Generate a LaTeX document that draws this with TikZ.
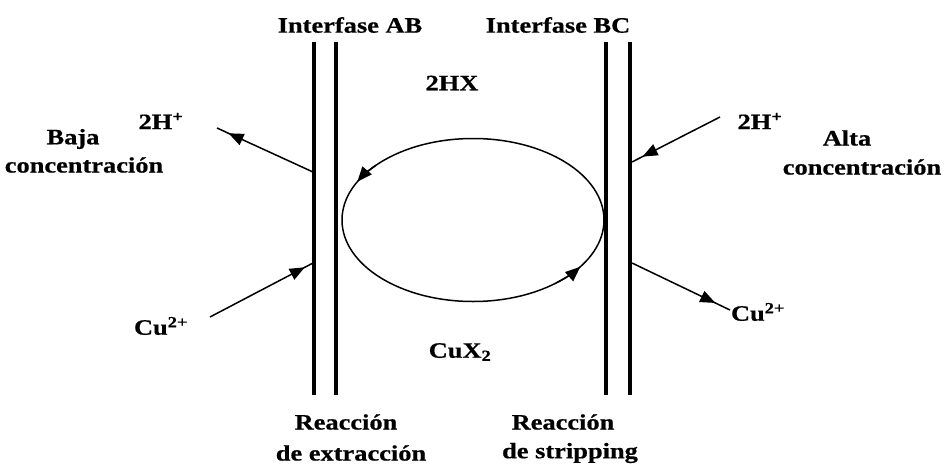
\documentclass[tikz,border=0pt]{standalone}
\usepackage{fontspec}
\newfontfamily\lblfont{Liberation Serif}[FakeStretch=1.2,BoldFeatures={FakeBold=0.6}]
\usetikzlibrary{arrows.meta,decorations.markings,calc}
\tikzset{
  wall/.style={line width=3.2pt},
  conn/.style={line width=1.5pt},
  headat/.style={postaction={decorate},decoration={markings,mark=at position #1 with {\arrow{Triangle[length=15pt,width=12pt]}}}},
  lbl/.style={inner sep=0pt,align=center},
  tipstyle/.style={line width=1.5pt,-{Triangle[length=15pt,width=12pt]}}
}
\begin{document}
\begin{tikzpicture}[x=1pt,y=-1pt,font=\lblfont\bfseries\fontsize{22}{30}\selectfont]
\useasboundingbox (0,0) rectangle (947,471);
% interfaces
\draw[wall] (314,42) -- (314,395);
\draw[wall] (336,42) -- (336,395);
\draw[wall] (606,42) -- (606,395);
\draw[wall] (630,42) -- (630,395);
% labels
\node[lbl] (iab) at (350,25) {Interfase AB};
\node[lbl] (ibc) at (558,25) {Interfase BC};
\node[lbl] (hx) at (452,83) {2HX};
\node[lbl] (cux) at (460,352) {CuX\textsubscript{2}};
\node[lbl] (hl) at (161,121) {2H\textsuperscript{+}};
\node[lbl] (hr) at (760,121) {2H\textsuperscript{+}};
\node[lbl] (cul) at (161,326) {Cu\textsuperscript{2+}};
\node[lbl] (cur) at (758,312) {Cu\textsuperscript{2+}};
\node[lbl] (baja) at (73,139) {Baja};
\node[lbl] (bajac) at (84,165) {concentración};
\node[lbl] (alta) at (847,138) {Alta};
\node[lbl] (altac) at (862,167) {concentración};
\node[lbl] (rext) at (346,422) {Reacción};
\node[lbl] (rext2) at (351,453) {de extracción};
\node[lbl] (rstr) at (563,422) {Reacción};
\node[lbl] (rstr2) at (570,453) {de stripping};
% connector end points
\coordinate (l1a) at (313,172);
\coordinate (l1b) at (217,128);
\coordinate (l2a) at (210,317);
\coordinate (l2b) at (313,263);
\coordinate (r1a) at (720,117);
\coordinate (r1b) at (632,162);
\coordinate (r2a) at (632,263);
\coordinate (r2b) at (730,310);
\draw[conn,headat=0.88] (l1a) -- (l1b);
\draw[conn,headat=0.92] (l2a) -- (l2b);
\draw[conn,headat=0.88] (r1a) -- (r1b);
\draw[conn,headat=0.85] (r2a) -- (r2b);
% cycle
\coordinate (c) at (473,220);
\draw[conn] (c) ellipse [x radius=131,y radius=81.5];
\draw[tipstyle] ($(c)+(-138:131 and 81.5)$) arc[start angle=-138,end angle=-152,x radius=131,y radius=81.5];
\draw[tipstyle] ($(c)+(50:131 and 81.5)$) arc[start angle=50,end angle=35,x radius=131,y radius=81.5];
\end{tikzpicture}
\end{document}
